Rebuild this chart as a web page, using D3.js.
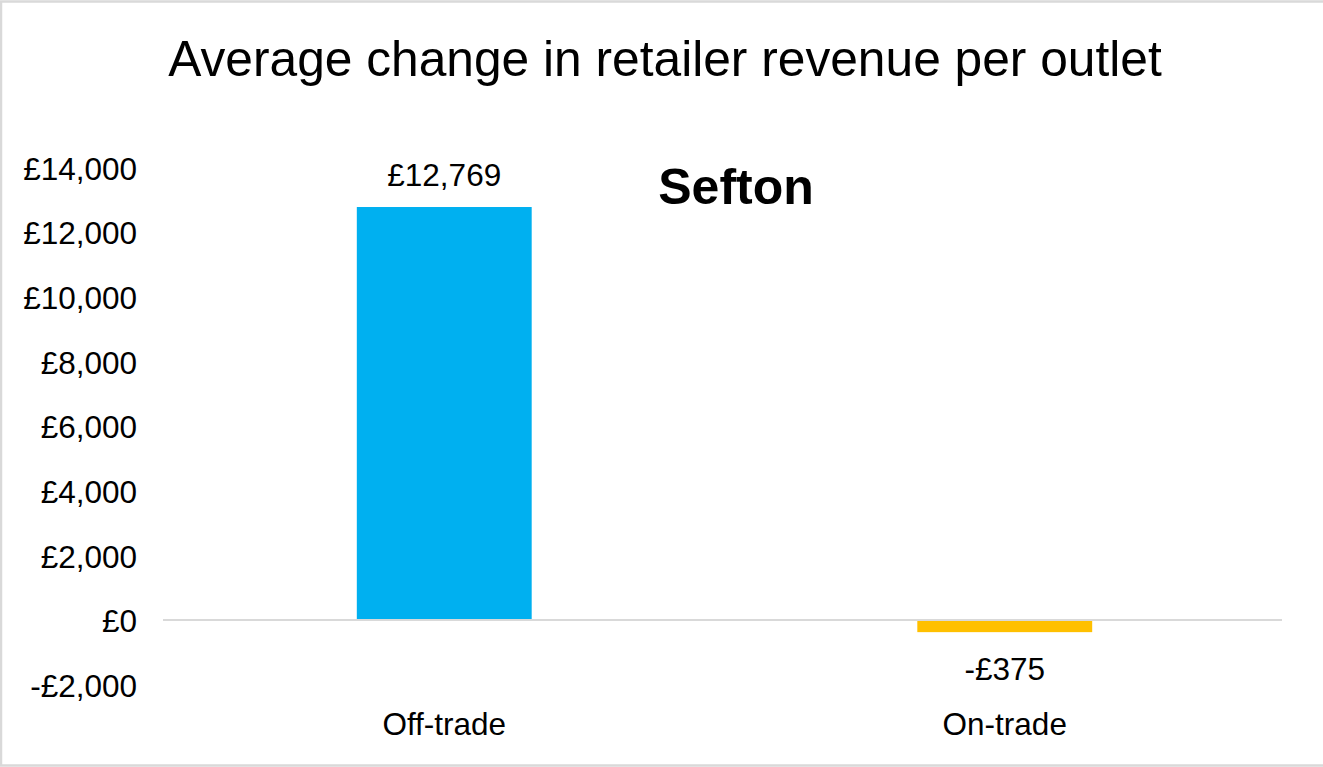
<!DOCTYPE html>
<html>
<head>
<meta charset="utf-8">
<script src="https://cdn.jsdelivr.net/npm/d3@7"></script>
<style>
  html, body { margin: 0; padding: 0; background: #fff; }
  svg { display: block; font-family: Arial, "Liberation Sans", sans-serif; }
</style>
</head>
<body>
<svg id="chart" width="1323" height="767"></svg>
<script>
const categories = ["Off-trade", "On-trade"];
const values = [12769, -375];
const valueLabels = ["£12,769", "-£375"];
const yTicks = [-2000, 0, 2000, 4000, 6000, 8000, 10000, 12000, 14000];
const colors = ["#00B0F0", "#FFC000"];
const title = "Average change in retailer revenue per outlet";
const subtitle = "Sefton";

const W = 1323, H = 767;
const svg = d3.select("#chart");

// outer border
svg.append("rect").attr("x", 1).attr("y", 1.5).attr("width", W + 10).attr("height", 764)
  .attr("fill", "#fff").attr("stroke", "#d9d9d9").attr("stroke-width", 2.5);

const x = d3.scaleBand().domain(categories).range([164, 1285]).padding(0);
const barW = x.bandwidth() * 0.312;
const y = d3.scaleLinear().domain([-2000, 14000]).range([684.7, 167.2]);

const fmt = v => (v < 0 ? "-£" : "£") + d3.format(",")(Math.abs(v));

// y axis labels
const yAxis = d3.axisLeft(y).tickValues(yTicks).tickFormat(fmt).tickSize(0).tickPadding(0);
const gy = svg.append("g").attr("transform", "translate(137,0)").call(yAxis);
gy.select(".domain").remove();
gy.selectAll("text").attr("font-size", "31.5px").attr("fill", "#000")
  .attr("font-family", "Arial, 'Liberation Sans', sans-serif").attr("dy", "0.38em");

// bars
svg.selectAll("rect.bar").data(categories).join("rect").attr("class", "bar")
  .attr("x", (d) => x(d) + x.bandwidth() / 2 - barW / 2)
  .attr("width", barW)
  .attr("y", (d, i) => y(Math.max(0, values[i])))
  .attr("height", (d, i) => Math.abs(y(values[i]) - y(0)))
  .attr("fill", (d, i) => colors[i]);

// zero line
svg.append("line").attr("x1", 163).attr("x2", 1282).attr("y1", y(0)).attr("y2", y(0))
  .attr("stroke", "#d9d9d9").attr("stroke-width", 2);

// value labels
svg.selectAll("text.val").data(categories).join("text").attr("class", "val")
  .attr("x", d => x(d) + x.bandwidth() / 2)
  .attr("y", (d, i) => values[i] >= 0 ? y(values[i]) - 21 : y(values[i]) + 48)
  .attr("text-anchor", "middle").attr("font-size", "31.5px").attr("fill", "#000")
  .text((d, i) => valueLabels[i]);

// x axis labels
const xAxis = d3.axisBottom(x).tickSize(0).tickPadding(0);
const gx = svg.append("g").attr("transform", "translate(0,735)").call(xAxis);
gx.select(".domain").remove();
gx.selectAll("text").attr("font-size", "31.5px").attr("fill", "#000")
  .attr("font-family", "Arial, 'Liberation Sans', sans-serif").attr("dy", "0");

// title
svg.append("text").attr("x", 665).attr("y", 76).attr("text-anchor", "middle")
  .attr("font-size", "49.7px").attr("fill", "#000").text(title);

// subtitle
svg.append("text").attr("x", 736).attr("y", 204).attr("text-anchor", "middle")
  .attr("font-size", "50px").attr("font-weight", "bold").attr("fill", "#000").text(subtitle);
</script>
</body>
</html>
